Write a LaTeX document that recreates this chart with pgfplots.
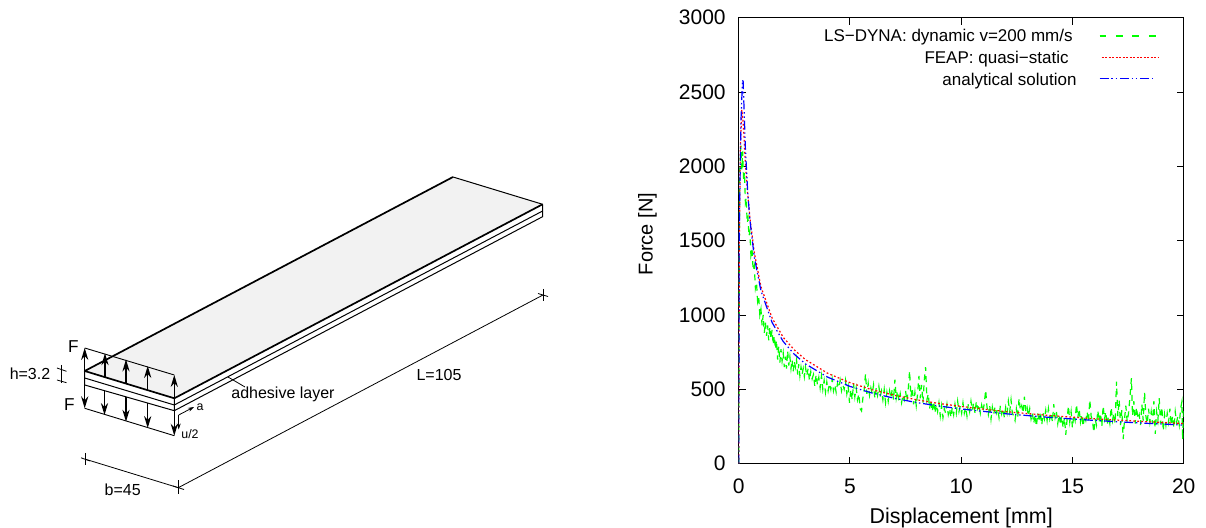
\documentclass[border=0pt]{standalone}
\usepackage{fontspec}
\setmainfont{Liberation Sans}
\usepackage{pgfplots}
\pgfplotsset{compat=1.18}
\usetikzlibrary{arrows.meta}
\definecolor{gpgreen}{RGB}{0,255,0}
\begin{document}
\begin{tikzpicture}
\useasboundingbox (0,0) rectangle (603pt,-264pt);
\begin{axis}[
  at={(369.35pt,-231.85pt)},anchor=south west,
  scale only axis,width=222.5pt,height=223pt,
  xmin=0,xmax=20,ymin=0,ymax=3000,
  xtick={0,5,10,15,20},ytick={0,500,1000,1500,2000,2500,3000},
  tick align=inside,xtick pos=both,ytick pos=both,
  major tick length=3.5pt,
  axis line style={line width=0.7pt},
  tick style={line width=0.5pt,black},
  /pgf/number format/assume math mode=true,
  /pgf/number format/1000 sep={},
  tick label style={font=\fontsize{10.5}{12}\selectfont},
  xticklabel style={yshift=-4.2pt},
  yticklabel style={xshift=-3pt},
  xlabel={Displacement [mm]},ylabel={Force [N]},
  xlabel style={font=\fontsize{10.7}{12}\selectfont,at={(axis description cs:0.5,0)},anchor=center,yshift=-27pt},
  every axis y label/.style={font=\fontsize{10}{12}\selectfont,at={(axis description cs:-0.205,0.515)},rotate=90,anchor=center},
]
\addplot[gpgreen,line width=0.6pt,dash pattern=on 3pt off 2.6pt] coordinates {
(0,0)(0.02,1000)(0.04,1950)(0.1,2140)(0.14,1980)(0.18,2100)(0.22,1900)(0.26,1960)(0.3,1760)(0.34,1790)
(0.38,1620)(0.42,1650)(0.46,1530)(0.5,1560)(0.55,1400)(0.6,1440)(0.65,1300)(0.7,1330)(0.75,1180)(0.8,1220)
(0.85,1090)(0.9,1120)(0.95,1000)(1,1040)(1.05,930)(1.1,1000)(1.15,880)(1.2,950)(1.25,860)(1.3,930)
(1.35,830)(1.4,920)(1.45,840)(1.5,900)(1.55,800)(1.6,860)(1.65,770)(1.7,830)(1.75,700)(1.8,790)
(1.85,680)(1.9,770)(1.95,690)(2,745)(2.05,650)(2.1,720)(2.15,640)(2.2,760)(2.25,660)(2.3,720)
(2.35,640)(2.4,700)(2.45,620)(2.5,690)(2.55,650)(2.6,700)(2.65,600)(2.7,670)(2.75,590)(2.8,650)
(2.85,600)(2.9,640)(2.95,585)(3,650)(3.06,590)(3.12,640)(3.18,560)(3.24,620)(3.3,570)(3.36,600)
(3.42,520)(3.48,600)(3.54,530)(3.6,580)(3.66,510)(3.72,590)(3.78,500)(3.84,560)(3.9,480)(3.96,550)
(4.02,490)(4.08,540)(4.14,500)(4.2,570)(4.26,490)(4.32,530)(4.38,480)(4.44,540)(4.5,510)(4.56,560)
(4.62,490)(4.68,530)(4.74,500)(4.8,560)(4.86,470)(4.92,520)(4.98,410)(5.04,500)(5.1,430)(5.16,540)
(5.22,450)(5.28,510)(5.34,430)(5.4,470)(5.46,370)(5.52,355)(5.58,440)(5.64,500)(5.7,605)(5.76,470)
(5.82,540)(5.88,460)(5.94,510)(6,470)(6.06,530)(6.12,440)(6.18,510)(6.24,460)(6.3,520)(6.36,450)
(6.42,490)(6.48,430)(6.54,500)(6.6,410)(6.66,480)(6.72,420)(6.78,490)(6.84,440)(6.9,500)(6.96,430)
(7.02,565)(7.08,440)(7.14,490)(7.2,420)(7.26,470)(7.32,410)(7.38,460)(7.44,430)(7.5,490)(7.56,420)
(7.62,500)(7.68,625)(7.74,450)(7.8,510)(7.86,400)(7.92,480)(7.98,390)(8.04,470)(8.1,590)(8.16,440)
(8.22,530)(8.28,410)(8.34,560)(8.4,650)(8.46,430)(8.52,470)(8.58,370)(8.64,430)(8.7,350)(8.76,420)
(8.82,340)(8.88,400)(8.94,350)(9,410)(9.06,320)(9.12,390)(9.18,310)(9.24,370)(9.3,340)(9.36,400)
(9.42,330)(9.48,370)(9.54,310)(9.6,380)(9.66,330)(9.72,400)(9.78,340)(9.84,420)(9.9,350)(9.96,390)
(10.02,340)(10.08,410)(10.14,340)(10.2,380)(10.26,320)(10.32,400)(10.38,350)(10.44,420)(10.5,360)(10.56,410)
(10.62,340)(10.68,420)(10.74,370)(10.8,400)(10.86,340)(10.92,395)(10.98,350)(11.04,410)(11.1,495)(11.16,380)
(11.22,330)(11.28,395)(11.34,300)(11.4,380)(11.46,330)(11.52,385)(11.58,340)(11.64,370)(11.7,310)(11.76,390)
(11.82,335)(11.88,370)(11.94,310)(12,380)(12.06,340)(12.12,420)(12.18,350)(12.24,430)(12.3,340)(12.36,320)
(12.42,290)(12.48,370)(12.54,310)(12.6,440)(12.66,360)(12.72,390)(12.78,340)(12.84,450)(12.9,350)(12.96,380)
(13.02,320)(13.08,370)(13.14,300)(13.2,340)(13.26,270)(13.32,330)(13.38,250)(13.44,340)(13.5,280)(13.56,350)
(13.62,260)(13.68,340)(13.74,300)(13.8,360)(13.86,290)(13.92,370)(13.98,300)(14.04,340)(14.1,280)(14.16,400)
(14.22,310)(14.28,350)(14.34,270)(14.4,330)(14.46,260)(14.52,320)(14.58,240)(14.64,310)(14.7,195)(14.76,300)
(14.82,390)(14.88,280)(14.94,350)(15,240)(15.06,330)(15.12,290)(15.18,400)(15.24,310)(15.3,370)(15.36,280)
(15.42,330)(15.48,250)(15.54,320)(15.6,290)(15.66,350)(15.72,280)(15.78,430)(15.84,320)(15.9,290)(15.96,210)
(16.02,300)(16.08,260)(16.14,360)(16.2,280)(16.26,340)(16.32,250)(16.38,390)(16.44,300)(16.5,350)(16.56,260)
(16.62,320)(16.68,270)(16.74,380)(16.8,290)(16.86,340)(16.92,270)(16.98,552)(17.04,320)(17.1,430)(17.16,260)
(17.22,360)(17.28,165)(17.34,300)(17.4,390)(17.46,280)(17.52,340)(17.58,440)(17.65,575)(17.7,320)(17.76,420)
(17.82,270)(17.88,380)(17.94,300)(18,330)(18.06,260)(18.12,400)(18.18,290)(18.24,480)(18.3,320)(18.36,270)
(18.42,370)(18.48,280)(18.54,350)(18.6,270)(18.66,420)(18.72,200)(18.78,350)(18.84,290)(18.9,440)(18.96,270)
(19.02,380)(19.08,220)(19.14,330)(19.2,260)(19.26,340)(19.32,280)(19.38,370)(19.44,260)(19.5,320)(19.56,240)
(19.62,350)(19.68,280)(19.74,320)(19.8,260)(19.86,370)(19.92,417)(19.95,160)(19.98,300)(20,390)
};
\addplot[red,line width=0.6pt,dash pattern=on 0.9pt off 1.1pt] coordinates {
(0,0)(0.03,1500)(0.07,2100)(0.14,2380)(0.2,2300)(0.3,2020)(0.4,1820)(0.5,1660)(0.7,1420)(1,1190)(1.5,980)
(2,850)(2.5,765)(3,700)(4,608)(5,545)(6,497)(7,460)(8,430)(9,405)(10,385)(12,350)(14,324)(16,302)(18,285)(20,270)
};
\addplot[blue,line width=0.6pt,dash pattern=on 4.5pt off 1.4pt on 0.7pt off 1.4pt on 0.7pt off 1.4pt] coordinates {
(0,0)(0.02,1500)(0.1,2300)(0.17,2580)(0.2,2570)(0.3,2123)(0.4,1839)(0.5,1645)(0.7,1390)(1,1163)(1.5,950)(2,822)(2.5,736)
(3,671)(4,582)(5,520)(6,475)(7,440)(8,411)(9,388)(10,368)(12,336)(14,311)(16,291)(18,274)(20,260)
};
% legend samples
\addplot[gpgreen,line width=0.55pt,dash pattern=on 3.4pt off 4.8pt] coordinates {(16.22,2877)(18.88,2877)};
\addplot[red,line width=0.55pt,dash pattern=on 1pt off 0.75pt] coordinates {(16.31,2730)(18.88,2730)};
\addplot[blue,line width=0.55pt,dash pattern=on 4.5pt off 1.4pt on 0.7pt off 1.4pt on 0.7pt off 1.4pt] coordinates {(16.22,2588)(18.7,2588)};
\end{axis}
\begin{scope}[x=0.5pt,y=-0.5pt]
% legend
\node[anchor=east,inner sep=0,font=\fontsize{8.5}{10}\selectfont] at (1073,37.5) {LS−DYNA: dynamic v=200 mm/s};
\node[anchor=east,inner sep=0,font=\fontsize{8.5}{10}\selectfont] at (1069,59) {FEAP: quasi−static};
\node[anchor=east,inner sep=0,font=\fontsize{8.5}{10}\selectfont] at (1077,81) {analytical solution};
% schematic
\fill[black!5] (84.7,371)--(453,177)--(542.6,204.3)--(174.3,398.3)--cycle;
\draw[line width=0.5pt] (453,177)--(542.6,204.3);
\draw[line width=0.5pt] (84.7,371)--(84.7,385)--(174.3,410.7)--(174.3,398.3);
\draw[line width=0.5pt] (84.7,378)--(174.3,405)--(542.6,211);
\draw[line width=0.5pt] (174.3,410.7)--(542.6,216.7)--(542.6,204.3);
\draw[line width=0.85pt,line join=round] (453,177)--(84.7,371)--(174.3,398.3)--(542.6,204.3);
% force lines
\tikzset{ar/.style={line width=0.55pt,-{Stealth[length=6pt,width=3.6pt]}}}
\draw[line width=0.45pt] (84.7,348)--(174.3,375);
\draw[line width=0.45pt] (84.7,408.3)--(174.3,435.7);
\foreach \x/\a/\b in {84.7/371/348,105/377/353.3,126/384/359.5,147.7/390/366,174.3/398.3/375}
  \draw[ar] (\x,\a)--(\x,\b);
\foreach \x/\a/\b in {84.7/385/408.3,104.5/391/415,126/397/421.7,147.7/403/428,174.3/410.7/435.7}
  \draw[ar] (\x,\a)--(\x,\b);
\draw[line width=0.4pt,-{Stealth[length=3pt,width=2pt]}] (178.7,415)--(178.7,429.5);
\draw[line width=0.4pt,-{Stealth[length=3pt,width=2pt]}] (178.7,415)--(194,407);
% dimensions
\draw[line width=0.4pt] (61.7,365)--(61.7,383);
\draw[line width=0.4pt] (57,368)--(66.5,371.3);
\draw[line width=0.4pt] (57,380)--(66.5,382.7);
\draw[line width=0.4pt] (85.7,453)--(85.7,465);
\draw[line width=0.4pt] (81,457.8)--(90,461);
\draw[line width=0.4pt] (85.7,459.3)--(178.3,487.7)--(543,295);
\draw[line width=0.4pt] (178.3,480.5)--(178.3,494.5);
\draw[line width=0.4pt] (173,486)--(184,489.5);
\draw[line width=0.4pt] (543,289)--(543,301);
\draw[line width=0.4pt] (538,293.5)--(548,296.5);
\draw[line width=0.4pt] (228,377)--(245,387);
% labels
\tikzset{lb/.style={inner sep=0,font=\fontsize{8}{10}\selectfont}}
\node[lb,font=\fontsize{8.6}{10}\selectfont] at (73.5,347) {F};
\node[lb,font=\fontsize{8.6}{10}\selectfont] at (69.5,404.5) {F};
\node[lb] at (30,374) {h=3.2};
\node[lb] at (283,394) {adhesive layer};
\node[lb] at (439,375) {L=105};
\node[lb] at (122.7,490) {b=45};
\node[inner sep=0,font=\fontsize{6.2}{8}\selectfont] at (200,407.5) {a};
\node[inner sep=0,font=\fontsize{6.2}{8}\selectfont] at (190,434.5) {u/2};
\end{scope}
\end{tikzpicture}
\end{document}
